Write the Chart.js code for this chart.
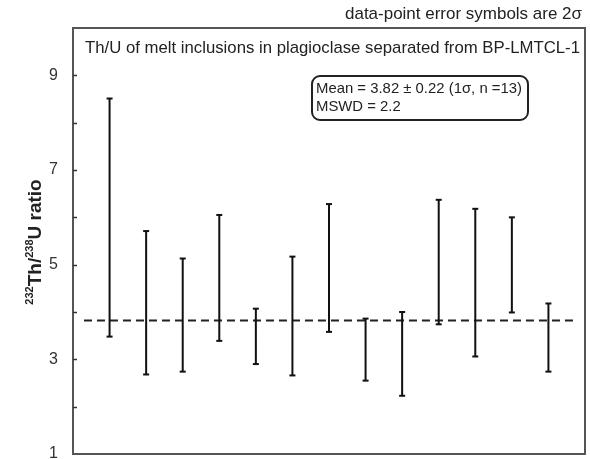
<!DOCTYPE html>
<html>
<head>
<meta charset="utf-8">
<script src="https://cdn.jsdelivr.net/npm/chart.js@4/dist/chart.umd.min.js"></script>
<style>html,body{margin:0;padding:0;background:#fff}</style>
</head>
<body>
<canvas id="thuChart" width="590" height="459"></canvas>
<script>
// Th/U of melt inclusions, 2 sigma error bars
const sampleNo = [1, 2, 3, 4, 5, 6, 7, 8, 9, 10, 11, 12, 13];
const upper2s = [8.51, 5.71, 5.13, 6.05, 4.07, 5.17, 6.28, 3.86, 4.00, 6.37, 6.18, 6.00, 4.18];
const lower2s = [3.48, 2.68, 2.74, 3.39, 2.90, 2.66, 3.58, 2.55, 2.23, 3.74, 3.06, 3.99, 2.74];
const meanRatio = 3.82;
const meanLineX = [0.3, 13.73];
const yTickLabels = [1, 3, 5, 7, 9];

const FONT = '"Liberation Sans", Arial, sans-serif';

// vertical segments, broken by null points
const barPoints = [];
sampleNo.forEach((n, i) => {
    barPoints.push({ x: n, y: lower2s[i] });
    barPoints.push({ x: n, y: upper2s[i] });
    barPoints.push({ x: n + 0.5, y: null });
});

// draw text squeezed by k (original font is narrower)
function squeezed(ctx, text, x, y, k, align) {
    const w = ctx.measureText(text).width;
    ctx.save();
    ctx.textAlign = 'left';
    ctx.translate(align === 'right' ? x - w * k : x, y);
    ctx.scale(k, 1);
    ctx.fillText(text, 0, 0);
    ctx.restore();
}
function fitK(ctx, text, width) {
    return Math.min(1, width / ctx.measureText(text).width);
}

const framePlugin = {
    id: 'framePlugin',
    afterDraw(chart) {
        const ctx = chart.ctx;
        const a = chart.chartArea;
        const ys = chart.scales.y;
        ctx.save();
        // plot frame
        ctx.strokeStyle = '#555';
        ctx.lineWidth = 2;
        ctx.strokeRect(a.left, a.top, a.right - a.left, a.bottom - a.top);
        // inward ticks
        ctx.strokeStyle = '#333';
        ctx.lineWidth = 1.5;
        for (let v = 2; v <= 9; v++) {
            const py = Math.round(ys.getPixelForValue(v)) + 0.5;
            ctx.beginPath();
            ctx.moveTo(a.left, py);
            ctx.lineTo(a.left + 4, py);
            ctx.stroke();
        }
        ctx.fillStyle = '#222';
        ctx.textBaseline = 'middle';
        // note above the frame
        ctx.font = '17px ' + FONT;
        const note = 'data-point error symbols are 2σ';
        squeezed(ctx, note, 582, 14, fitK(ctx, note, 237), 'right');
        // title inside the frame
        const title = 'Th/U of melt inclusions in plagioclase separated from BP-LMTCL-1';
        squeezed(ctx, title, 85, 48, fitK(ctx, title, 495), 'left');
        // mean box
        ctx.strokeStyle = '#222';
        ctx.lineWidth = 2;
        ctx.beginPath();
        ctx.roundRect(312, 76, 216, 44, 8);
        ctx.stroke();
        ctx.font = '15px ' + FONT;
        const meanTxt = 'Mean = 3.82 ± 0.22 (1σ, n =13)';
        const kb = fitK(ctx, meanTxt, 206);
        squeezed(ctx, meanTxt, 316, 89, kb, 'left');
        squeezed(ctx, 'MSWD = 2.2', 316, 107, kb, 'left');
        // y axis title with superscripts
        const parts = [
            { t: '232', sup: true }, { t: 'Th/', sup: false },
            { t: '238', sup: true }, { t: 'U ratio', sup: false }
        ];
        const big = 'bold 19px ' + FONT, small = 'bold 11px ' + FONT;
        let total = 0;
        parts.forEach(p => { ctx.font = p.sup ? small : big; p.w = ctx.measureText(p.t).width; total += p.w; });
        const k = Math.min(1, 130 / total);
        ctx.translate(35, 242);
        ctx.rotate(-Math.PI / 2);
        ctx.scale(k, 1);
        ctx.textBaseline = 'alphabetic';
        let cx = -total / 2;
        parts.forEach(p => {
            ctx.font = p.sup ? small : big;
            ctx.fillText(p.t, cx, p.sup ? -2 : 6);
            cx += p.w;
        });
        ctx.restore();
    }
};

new Chart(document.getElementById('thuChart').getContext('2d'), {
    type: 'line',
    data: {
        datasets: [{
            label: 'Th/U 2s',
            data: barPoints,
            borderColor: '#111',
            borderWidth: 2,
            spanGaps: false,
            pointStyle: 'line',
            pointRadius: 3,
            pointBorderWidth: 2,
            pointBorderColor: '#111',
            pointHoverRadius: 3
        }, {
            label: 'Mean',
            data: meanLineX.map(x => ({ x: x, y: meanRatio })),
            borderColor: '#222',
            borderWidth: 2,
            borderDash: [8, 5],
            pointRadius: 0
        }]
    },
    options: {
        responsive: false,
        animation: false,
        layout: { padding: { top: 28, right: 5, bottom: 3, left: 0 } },
        plugins: {
            legend: { display: false },
            tooltip: { enabled: false }
        },
        scales: {
            x: {
                type: 'linear',
                min: 0,
                max: 14,
                display: false
            },
            y: {
                min: 1,
                max: 10,
                border: { display: false },
                grid: { display: false, drawTicks: false },
                ticks: {
                    stepSize: 1,
                    padding: 15,
                    color: '#333',
                    font: { family: FONT, size: 16 },
                    callback: v => yTickLabels.includes(v) ? String(v) : ''
                },
                afterFit(scale) {
                    scale.width = 73;
                    scale.paddingTop = 0;
                    scale.paddingBottom = 0;
                }
            }
        }
    },
    plugins: [framePlugin]
});
</script>
</body>
</html>
